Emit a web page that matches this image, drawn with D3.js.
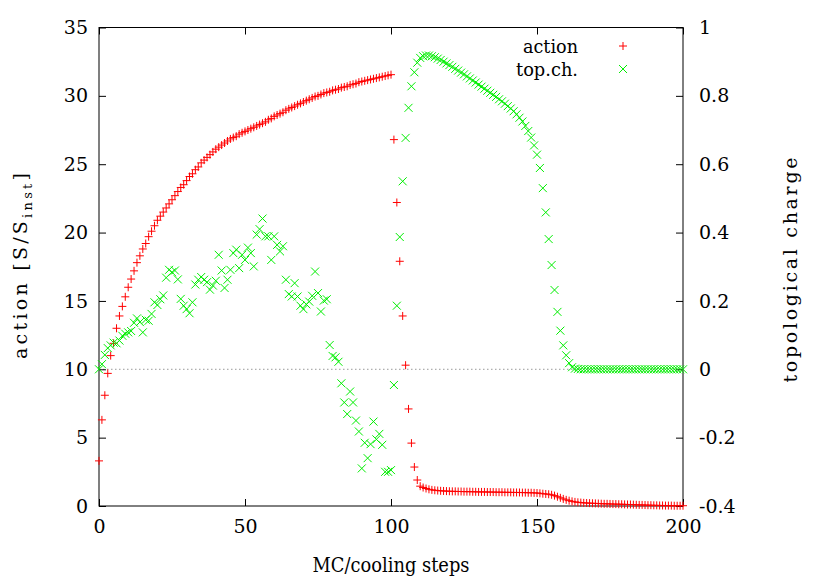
<!DOCTYPE html>
<html>
<head>
<meta charset="utf-8">
<script src="https://cdn.jsdelivr.net/npm/d3@7"></script>
<style>
  body { margin: 0; background: #fff; }
</style>
</head>
<body>
<svg id="chart" width="830" height="581" font-family="DejaVu Serif"></svg>
<script>
// ---- data ----
const xTicks = [0, 50, 100, 150, 200];
const leftTicks = [0, 5, 10, 15, 20, 25, 30, 35];
const rightTicks = [-0.4, -0.2, 0, 0.2, 0.4, 0.6, 0.8, 1];
const rightTickLabels = ["-0.4", "-0.2", "0", "0.2", "0.4", "0.6", "0.8", "1"];
const seriesNames = ["action", "top.ch."];

// action [S/S_inst], one value per cooling step 0..200
const action = [
  3.3, 6.3, 8.1, 9.7, 11.0, 11.9, 13.0, 13.9, 14.6, 15.3,
  16.0, 16.6, 17.2, 17.8, 18.3, 18.8, 19.2, 19.7, 20.1, 20.5,
  20.9, 21.2, 21.5, 21.8, 22.1, 22.4, 22.7, 23.0, 23.3, 23.5,
  23.8, 24.1, 24.3, 24.6, 24.8, 25.1, 25.3, 25.5, 25.7, 25.9,
  26.1, 26.25, 26.4, 26.55, 26.7, 26.85, 26.95, 27.05, 27.2, 27.3,
  27.4, 27.5, 27.6, 27.7, 27.8, 27.9, 28.0, 28.1, 28.25, 28.35,
  28.5, 28.6, 28.7, 28.8, 28.95, 29.05, 29.15, 29.25, 29.35, 29.45,
  29.55, 29.65, 29.75, 29.85, 29.95, 30.0, 30.1, 30.2, 30.25, 30.3,
  30.4, 30.45, 30.5, 30.6, 30.65, 30.7, 30.8, 30.85, 30.9, 31.0,
  31.05, 31.1, 31.15, 31.2, 31.25, 31.3, 31.35, 31.4, 31.45, 31.5,
  31.55, 26.8, 22.2, 17.9, 13.9, 10.3, 7.1, 4.6, 2.85, 1.9,
  1.45, 1.35, 1.28, 1.22, 1.18, 1.15, 1.13, 1.11, 1.10, 1.09,
  1.08, 1.07, 1.07, 1.06, 1.06, 1.05, 1.05, 1.05, 1.04, 1.04,
  1.03, 1.03, 1.03, 1.02, 1.02, 1.02, 1.01, 1.01, 1.01, 1.00,
  1.00, 1.00, 0.99, 0.99, 0.99, 0.98, 0.98, 0.97, 0.97, 0.96,
  0.95, 0.93, 0.90, 0.88, 0.86, 0.82, 0.76, 0.68, 0.60, 0.52,
  0.45, 0.39, 0.34, 0.30, 0.27, 0.25, 0.23, 0.22, 0.21, 0.20,
  0.19, 0.18, 0.17, 0.16, 0.16, 0.15, 0.14, 0.14, 0.13, 0.13,
  0.12, 0.11, 0.11, 0.10, 0.09, 0.08, 0.08, 0.07, 0.06, 0.06,
  0.05, 0.05, 0.04, 0.04, 0.03, 0.03, 0.03, 0.02, 0.02, 0.02,
  0.02
];

// topological charge, one value per cooling step 0..200
const topCharge = [
  0.000, 0.015, 0.042, 0.062, 0.070, 0.078, 0.076, 0.084, 0.098, 0.104,
  0.108, 0.112, 0.136, 0.149, 0.138, 0.108, 0.145, 0.142, 0.162, 0.196,
  0.188, 0.205, 0.216, 0.268, 0.291, 0.284, 0.289, 0.263, 0.206, 0.186,
  0.176, 0.164, 0.196, 0.248, 0.262, 0.270, 0.262, 0.255, 0.233, 0.245,
  0.259, 0.335, 0.289, 0.238, 0.262, 0.291, 0.340, 0.350, 0.296, 0.335,
  0.320, 0.356, 0.340, 0.301, 0.394, 0.410, 0.441, 0.389, 0.389, 0.320,
  0.389, 0.364, 0.345, 0.360, 0.262, 0.220, 0.213, 0.252, 0.213, 0.186,
  0.176, 0.190, 0.198, 0.215, 0.286, 0.223, 0.169, 0.201, 0.205, 0.071,
  0.039, 0.035, 0.022, -0.041, -0.097, -0.131, -0.065, -0.097, -0.150, -0.182,
  -0.290, -0.215, -0.260, -0.219, -0.153, -0.205, -0.189, -0.221, -0.300, -0.300,
  -0.295, -0.046, 0.186, 0.387, 0.550, 0.677, 0.765, 0.828, 0.869, 0.897,
  0.911, 0.916, 0.918, 0.918, 0.916, 0.913, 0.909, 0.905, 0.900, 0.895,
  0.890, 0.885, 0.879, 0.874, 0.868, 0.863, 0.857, 0.851, 0.845, 0.839,
  0.833, 0.827, 0.821, 0.815, 0.809, 0.803, 0.797, 0.790, 0.784, 0.777,
  0.770, 0.763, 0.755, 0.746, 0.736, 0.725, 0.712, 0.697, 0.678, 0.655,
  0.628, 0.589, 0.530, 0.459, 0.381, 0.305, 0.232, 0.168, 0.113, 0.070,
  0.041, 0.018, 0.006, 0.002, 0.001, 0.000, 0.000, 0.000, 0.000, 0.000,
  0.000, 0.000, 0.000, 0.000, 0.000, 0.000, 0.000, 0.000, 0.000, 0.000,
  0.000, 0.000, 0.000, 0.000, 0.000, 0.000, 0.000, 0.000, 0.000, 0.000,
  0.000, 0.000, 0.000, 0.000, 0.000, 0.000, 0.000, 0.000, 0.000, 0.000,
  0.000
];

// ---- layout ----
const W = 830, H = 581;
const m = { left: 99, right: W - 683, top: 27.5, bottom: H - 506 };
const svg = d3.select("#chart");
const FONT = "DejaVu Serif";

const x = d3.scaleLinear().domain([0, 200]).range([m.left, W - m.right]);
const yL = d3.scaleLinear().domain([0, 35]).range([H - m.bottom, m.top]);
const yR = d3.scaleLinear().domain([-0.4, 1]).range([H - m.bottom, m.top]);

const fs = 19;
const tickLen = 7;

// zero line of top. charge (dotted)
svg.append("line")
  .attr("x1", x(0)).attr("x2", x(200))
  .attr("y1", yR(0)).attr("y2", yR(0))
  .attr("stroke", "#999").attr("stroke-width", 1)
  .attr("stroke-dasharray", "1.5,2.5");

// axes using d3 axis generators (inward ticks)
const gxB = svg.append("g").attr("transform", `translate(0,${H - m.bottom})`)
  .call(d3.axisBottom(x).tickValues(xTicks).tickSize(-tickLen).tickPadding(14).tickFormat(d3.format("d")));
const gxT = svg.append("g").attr("transform", `translate(0,${m.top})`)
  .call(d3.axisTop(x).tickValues(xTicks).tickSize(-tickLen).tickFormat(""));
const gyL = svg.append("g").attr("transform", `translate(${m.left},0)`)
  .call(d3.axisLeft(yL).tickValues(leftTicks).tickSize(-tickLen).tickPadding(11).tickFormat(d3.format("d")));
const gyR = svg.append("g").attr("transform", `translate(${W - m.right},0)`)
  .call(d3.axisRight(yR).tickValues(rightTicks).tickSize(-tickLen).tickPadding(16)
    .tickFormat((d, i) => rightTickLabels[i]));

[gxB, gxT, gyL, gyR].forEach(g => {
  g.attr("font-family", FONT).attr("font-size", fs);
  g.select(".domain").remove();
  g.selectAll(".tick line").attr("stroke", "#000").attr("stroke-width", 1);
  g.selectAll(".tick text").attr("fill", "#000");
});
gyR.selectAll(".tick text").attr("text-anchor", "start");

// frame
svg.append("rect")
  .attr("x", x(0)).attr("y", m.top)
  .attr("width", x(200) - x(0)).attr("height", (H - m.bottom) - m.top)
  .attr("fill", "none").attr("stroke", "#000").attr("stroke-width", 1);

// markers
const plusPath = s => `M${-s},0H${s}M0,${-s}V${s}`;
const crossPath = s => `M${-s},${-s}L${s},${s}M${-s},${s}L${s},${-s}`;

svg.append("g").selectAll("path").data(action).join("path")
  .attr("transform", (d, i) => `translate(${x(i)},${yL(d)})`)
  .attr("d", plusPath(4))
  .attr("stroke", "#ff0000").attr("stroke-width", 1).attr("fill", "none");

svg.append("g").selectAll("path").data(topCharge).join("path")
  .attr("transform", (d, i) => `translate(${x(i)},${yR(d)})`)
  .attr("d", crossPath(4))
  .attr("stroke", "#00ee00").attr("stroke-width", 1).attr("fill", "none");

// legend
const lg = svg.append("g").attr("font-family", FONT).attr("font-size", fs);
lg.append("text").attr("x", 578).attr("y", 53).attr("text-anchor", "end")
  .attr("textLength", 55).attr("lengthAdjust", "spacingAndGlyphs").text(seriesNames[0]);
lg.append("path").attr("transform", "translate(623,46)").attr("d", plusPath(4))
  .attr("stroke", "#ff0000").attr("fill", "none");
lg.append("text").attr("x", 578).attr("y", 76).attr("text-anchor", "end")
  .attr("textLength", 62).attr("lengthAdjust", "spacingAndGlyphs").text(seriesNames[1]);
lg.append("path").attr("transform", "translate(623,69)").attr("d", crossPath(4))
  .attr("stroke", "#00ee00").attr("fill", "none");

// axis titles
svg.append("text").attr("x", (x(0) + x(200)) / 2).attr("y", 572)
  .attr("text-anchor", "middle").attr("font-size", 20).attr("font-family", FONT)
  .attr("textLength", 157).attr("lengthAdjust", "spacingAndGlyphs")
  .text("MC/cooling steps");

const yl = svg.append("text")
  .attr("transform", `translate(27,266) rotate(-90)`)
  .attr("text-anchor", "middle").attr("font-size", 19).attr("font-family", FONT)
  .attr("textLength", 186).attr("lengthAdjust", "spacing");
yl.append("tspan").text("action [S/S");
yl.append("tspan").attr("font-size", 13).attr("dy", 5).text("inst");
yl.append("tspan").attr("dy", -5).text("]");

svg.append("text")
  .attr("transform", `translate(797,270) rotate(-90)`)
  .attr("text-anchor", "middle").attr("font-size", 19).attr("font-family", FONT)
  .attr("textLength", 225).attr("lengthAdjust", "spacing")
  .text("topological charge");
</script>
</body>
</html>
